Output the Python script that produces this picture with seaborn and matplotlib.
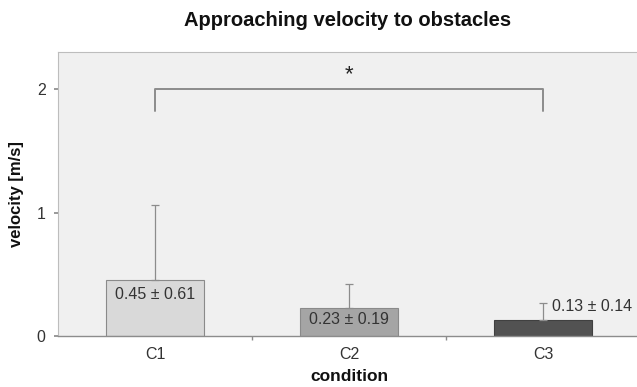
import matplotlib
matplotlib.use("Agg")
import matplotlib.pyplot as plt
import seaborn as sns
import pandas as pd

conditions = ["C1", "C2", "C3"]
means = [0.45, 0.23, 0.13]
sds = [0.61, 0.19, 0.14]
bar_colors = ["#d9d9d9", "#a5a5a5", "#525252"]
edge_colors = ["#8a8a8a", "#8a8a8a", "#404040"]
labels = ["0.45 ± 0.61", "0.23 ± 0.19", "0.13 ± 0.14"]

sns.set_theme(style="white")
plt.rcParams['font.family'] = ['Liberation Sans', 'DejaVu Sans']

df = pd.DataFrame({"condition": conditions, "velocity": means})

fig = plt.figure(figsize=(6.37, 3.87), dpi=100)
ax = fig.add_axes([58/637, (387-336)/387, (640-58)/637, (336-52)/387])
ax.set_facecolor("#f0f0f0")

sns.barplot(data=df, x="condition", y="velocity", hue="condition",
            palette=bar_colors, width=0.51, legend=False, ax=ax, errorbar=None,
            linewidth=0.8)
for p, ec in zip(ax.patches, edge_colors):
    p.set_edgecolor(ec)

xs = list(range(len(conditions)))
ax.errorbar(xs, means, yerr=[[0]*3, sds], fmt="none", ecolor="#8c8c8c",
            elinewidth=0.9, capsize=3, capthick=0.9, zorder=3)

# value labels
fs = 11.5
ax.text(0, 0.335, labels[0], ha="center", va="center", fontsize=fs, color="#333333")
ax.text(1, 0.135, labels[1], ha="center", va="center", fontsize=fs, color="#333333")
ax.text(2.045, 0.235, labels[2], ha="left", va="center", fontsize=fs, color="#333333")

# significance bracket
ax.plot([0, 0, 2, 2], [1.82, 2.0, 2.0, 1.82], color="#8c8c8c", lw=1.4)
ax.text(1, 2.03, "*", ha="center", va="bottom", fontsize=16, color="#222222")

ax.set_xlim(-0.5, 2.5)
ax.set_ylim(0, 2.3)
ax.set_yticks([0, 1, 2])
ax.set_xticks(xs)
ax.set_xticks([0.5, 1.5], minor=True)
ax.tick_params(axis="x", which="major", length=0, labelsize=fs, labelcolor="#333333", pad=8)
ax.tick_params(axis="x", which="minor", length=3, color="#8c8c8c", direction="out", bottom=True)
ax.tick_params(axis="y", length=3, color="#8c8c8c", labelsize=fs, labelcolor="#333333", left=True, pad=6)

for side in ["top", "left", "right"]:
    ax.spines[side].set_color("#bdbdbd")
    ax.spines[side].set_linewidth(0.8)
ax.spines["bottom"].set_color("#8c8c8c")
ax.spines["bottom"].set_linewidth(1.0)

ax.set_xlabel("condition", fontsize=12.5, fontweight="bold", color="#111111", labelpad=5)
ax.set_ylabel("velocity [m/s]", fontsize=12, fontweight="bold", color="#111111", labelpad=9)
fig.text(0.545, 0.948, "Approaching velocity to obstacles", ha="center", va="center",
         fontsize=14.5, fontweight="bold", color="#111111")

fig.savefig("out.png", dpi=100)
